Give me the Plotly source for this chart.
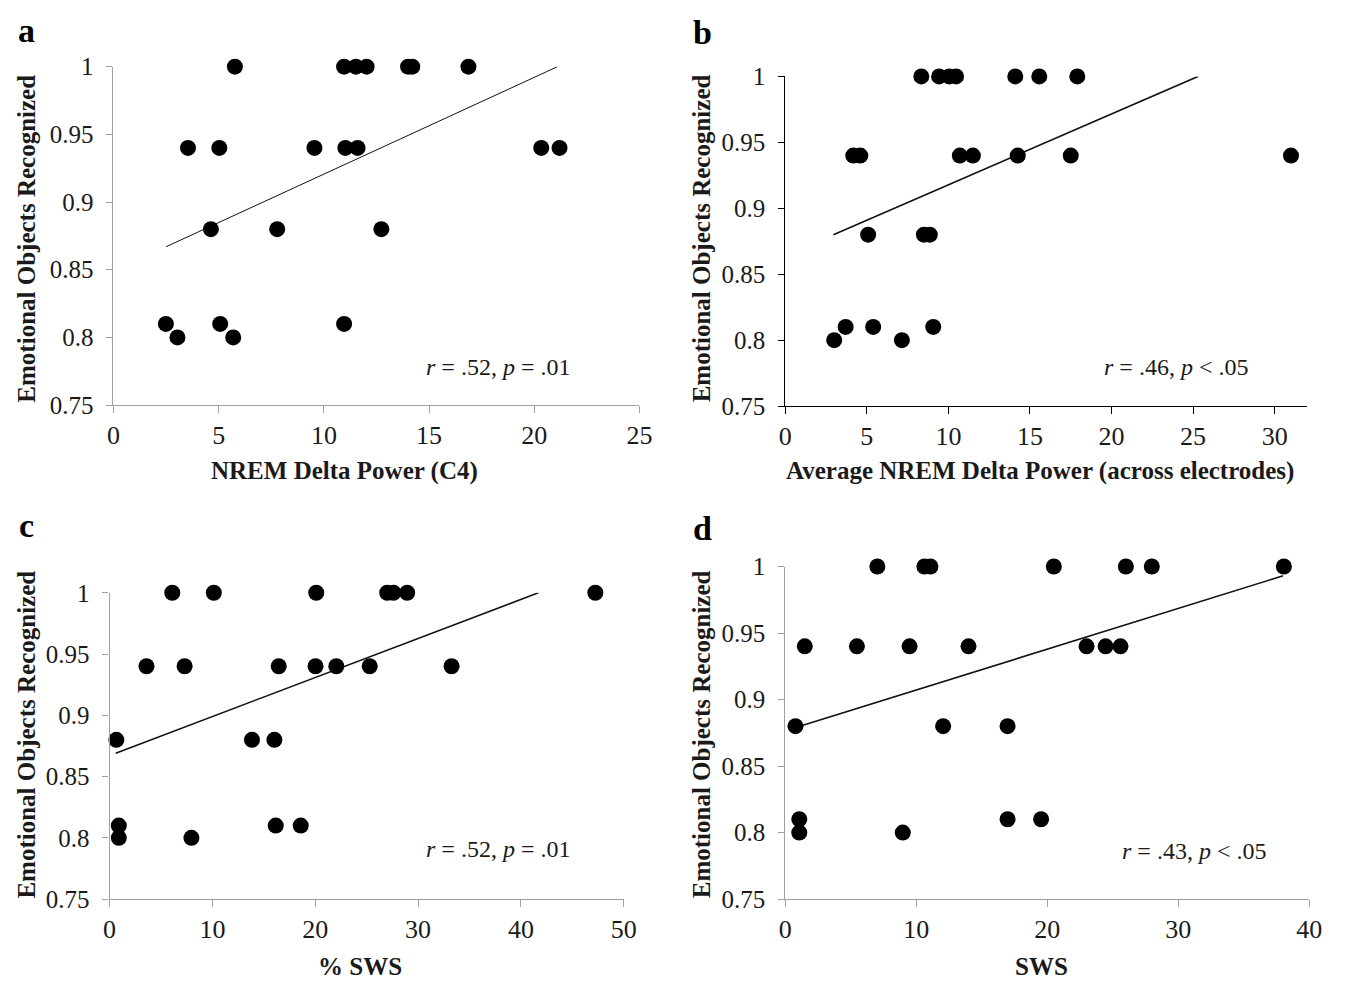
import plotly.graph_objects as go

# Page body has an 8px default margin; the figure is shrunk and shifted to compensate
PAGE_W, PAGE_H = 1348, 994
OFF = 8
W, H = PAGE_W - 2 * OFF, PAGE_H - 2 * OFF

# ---------------- data ----------------
a_x = [2.49, 3.04, 3.54, 4.63, 5.03, 5.07, 5.69, 5.77, 7.78, 9.55, 10.96, 11.02, 10.96,
       11.52, 11.6, 12.03, 12.73, 14.0, 14.2, 16.87, 20.33, 21.2]
a_y = [0.81, 0.80, 0.94, 0.88, 0.94, 0.81, 0.80, 1.0, 0.88, 0.94, 1.0, 0.94, 0.81,
       1.0, 0.94, 1.0, 0.88, 1.0, 1.0, 1.0, 0.94, 0.94]
a_fit_x = [2.5, 21.1]
a_fit_y = [0.867, 1.0]

b_x = [3.0, 3.7, 4.17, 4.6, 5.08, 5.39, 7.15, 8.34, 8.5, 8.86, 9.07, 9.43, 10.05, 10.47,
       10.7, 11.5, 14.1, 14.25, 15.57, 17.5, 17.9, 31.0]
b_y = [0.80, 0.81, 0.94, 0.94, 0.88, 0.81, 0.80, 1.0, 0.88, 0.88, 0.81, 1.0, 1.0, 1.0,
       0.94, 0.94, 1.0, 0.94, 1.0, 0.94, 1.0, 0.94]
b_fit_x = [2.95, 25.3]
b_fit_y = [0.880, 1.0]

c_x = [0.66, 0.9, 0.9, 3.59, 6.1, 7.3, 7.96, 10.14, 13.85, 16.03, 16.16, 16.45, 18.59,
       20.03, 20.1, 22.05, 25.3, 27.0, 27.6, 28.94, 33.26, 47.24]
c_y = [0.88, 0.81, 0.80, 0.94, 1.0, 0.94, 0.80, 1.0, 0.88, 0.88, 0.81, 0.94, 0.81,
       0.94, 1.0, 0.94, 0.94, 1.0, 1.0, 1.0, 0.94, 1.0]
c_fit_x = [0.6, 41.7]
c_fit_y = [0.869, 1.0]

d_x = [0.78, 1.07, 1.07, 1.49, 5.47, 7.03, 8.97, 9.49, 10.62, 11.08, 12.05, 13.99,
       16.97, 16.97, 19.53, 20.5, 23.0, 24.45, 25.59, 26.0, 27.98, 38.06]
d_y = [0.88, 0.81, 0.80, 0.94, 0.94, 1.0, 0.80, 0.94, 1.0, 1.0, 0.88, 0.94,
       0.88, 0.81, 0.81, 1.0, 0.94, 0.94, 0.94, 1.0, 1.0, 1.0]
d_fit_x = [0.8, 38.0]
d_fit_y = [0.879, 0.993]

y_ticks = [0.75, 0.8, 0.85, 0.9, 0.95, 1.0]
y_ticktext = ["0.75", "0.8", "0.85", "0.9", "0.95", "1"]

panels = [
    dict(key="a", x=a_x, y=a_y, fx=a_fit_x, fy=a_fit_y, xr=[0, 25], dt=5,
         px=(108, 642), py=(55, 403), axcol="#a0a0a0", lw=1.0,
         xtitle="NREM Delta Power (C4)", stat="<i>r</i> = .52, <i>p</i> = .01",
         stat_pos=(498, 364), xt_pos=(343, 471), yt_pos=(20, 232), lab_pos=(20, 18)),
    dict(key="b", x=b_x, y=b_y, fx=b_fit_x, fy=b_fit_y, xr=[0, 32], dt=5,
         px=(790, 1320), py=(65, 404), axcol="#000000", lw=1.6,
         xtitle="Average NREM Delta Power (across electrodes)", stat="<i>r</i> = .46, <i>p</i> < .05",
         stat_pos=(1187, 364), xt_pos=(1049, 471), yt_pos=(705, 232), lab_pos=(706, 20)),
    dict(key="c", x=c_x, y=c_y, fx=c_fit_x, fy=c_fit_y, xr=[0, 50], dt=10,
         px=(104, 626), py=(596, 911), axcol="#a0a0a0", lw=1.6,
         xtitle="% SWS", stat="<i>r</i> = .52, <i>p</i> = .01",
         stat_pos=(498, 860), xt_pos=(358, 980), yt_pos=(20, 742), lab_pos=(20, 527)),
    dict(key="d", x=d_x, y=d_y, fx=d_fit_x, fy=d_fit_y, xr=[0, 40], dt=10,
         px=(790, 1322), py=(569, 911), axcol="#a0a0a0", lw=1.6,
         xtitle="SWS", stat="<i>r</i> = .43, <i>p</i> < .05",
         stat_pos=(1205, 862), xt_pos=(1050, 980), yt_pos=(705, 742), lab_pos=(706, 530)),
]

FONT = "Liberation Serif, Times New Roman, serif"


def fx(px):
    return (px - OFF) / W


def fy(py):
    return 1 - (py - OFF) / H


fig = go.Figure()
layout = dict(
    width=W, height=H, margin=dict(l=0, r=0, t=0, b=0),
    paper_bgcolor="white", plot_bgcolor="white", showlegend=False,
    font=dict(family=FONT, color="#1a1a1a"),
)
annotations = []

for i, p in enumerate(panels):
    n = i + 1
    xa = "x" if n == 1 else f"x{n}"
    ya = "y" if n == 1 else f"y{n}"
    xkey = "xaxis" if n == 1 else f"xaxis{n}"
    ykey = "yaxis" if n == 1 else f"yaxis{n}"
    fig.add_trace(go.Scatter(x=p["fx"], y=p["fy"], mode="lines", xaxis=xa, yaxis=ya,
                             line=dict(color="#111111", width=p["lw"]), hoverinfo="skip"))
    fig.add_trace(go.Scatter(x=p["x"], y=p["y"], mode="markers", xaxis=xa, yaxis=ya,
                             cliponaxis=False,
                             marker=dict(color="#000000", size=16, line=dict(width=0))))
    layout[xkey] = dict(
        domain=[fx(p["px"][0]), fx(p["px"][1])], anchor=ya, range=p["xr"],
        dtick=p["dt"], tick0=0, showgrid=False, zeroline=False,
        showline=True, linecolor=p["axcol"], linewidth=1.2,
        ticks="outside", ticklen=7, tickcolor=p["axcol"], tickwidth=1.2,
        tickfont=dict(family=FONT, size=26, color="#1a1a1a"),
    )
    layout[ykey] = dict(
        domain=[fy(p["py"][1]), fy(p["py"][0])], anchor=xa, range=[0.75, 1.0],
        tickvals=y_ticks, ticktext=y_ticktext, showgrid=False, zeroline=False,
        showline=True, linecolor=p["axcol"], linewidth=1.2,
        ticks="outside", ticklen=6, tickcolor=p["axcol"], tickwidth=1.2,
        tickfont=dict(family=FONT, size=25, color="#1a1a1a"),
        ticklabelstandoff=8,
    )
    annotations.append(dict(text=p["stat"], x=fx(p["stat_pos"][0]), y=fy(p["stat_pos"][1]),
                            xref="paper", yref="paper", showarrow=False,
                            xanchor="center", yanchor="middle",
                            font=dict(family=FONT, size=24, color="#1a1a1a")))
    annotations.append(dict(text="<b>" + p["xtitle"] + "</b>", x=fx(p["xt_pos"][0]),
                            y=fy(p["xt_pos"][1]), xref="paper", yref="paper",
                            showarrow=False, xanchor="center", yanchor="middle",
                            font=dict(family=FONT, size=25, color="#1a1a1a")))
    annotations.append(dict(text="<b>Emotional Objects Recognized</b>", x=fx(p["yt_pos"][0]),
                            y=fy(p["yt_pos"][1]), xref="paper", yref="paper",
                            showarrow=False, textangle=-90, xanchor="center", yanchor="middle",
                            font=dict(family=FONT, size=25, color="#1a1a1a")))
    annotations.append(dict(text="<b>" + p["key"] + "</b>", x=fx(p["lab_pos"][0]),
                            y=fy(p["lab_pos"][1]), xref="paper", yref="paper",
                            showarrow=False, xanchor="center", yanchor="middle",
                            font=dict(family=FONT, size=34, color="#000000")))

layout["annotations"] = annotations
fig.update_layout(**layout)
fig.write_html("out.html")
